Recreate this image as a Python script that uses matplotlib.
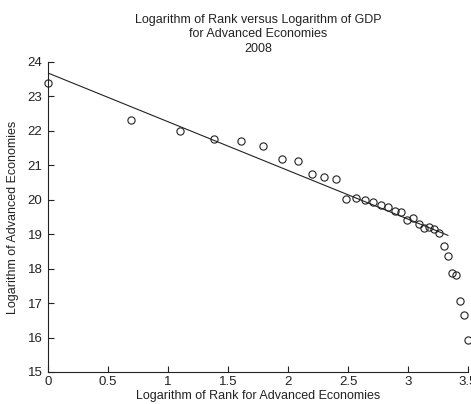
import numpy as np
import matplotlib
matplotlib.use("Agg")
import matplotlib.pyplot as plt

plt.rcParams['font.family'] = ['Liberation Sans', 'DejaVu Sans']

ranks = list(range(1, 34))
log_gdp = [23.38, 22.31, 22.00, 21.77, 21.70, 21.56, 21.18, 21.13, 20.76, 20.65,
           20.59, 20.03, 20.04, 19.99, 19.93, 19.84, 19.80, 19.68, 19.65, 19.41,
           19.46, 19.29, 19.18, 19.21, 19.14, 19.05, 18.67, 18.37, 17.86, 17.81,
           17.05, 16.65, 15.94]
fit_intercept = 23.68
fit_slope = -1.414
fit_last_rank = 28

title = "Logarithm of Rank versus Logarithm of GDP\nfor Advanced Economies\n2008"
xlabel = "Logarithm of Rank for Advanced Economies"
ylabel = "Logarithm of Advanced Economies"
xticks = [0, 0.5, 1, 1.5, 2, 2.5, 3, 3.5]
yticks = list(range(15, 25))

W, H = 471, 404
fig = plt.figure(figsize=(W / 100, H / 100), dpi=100)
ax = fig.add_axes([48 / W, 1 - 372 / H, (468 - 48) / W, (372 - 62) / H])

x = np.log(np.array(ranks, dtype=float))
ax.plot(x, log_gdp, linestyle='none', marker='o', markersize=5.2,
        markerfacecolor='none', markeredgecolor='#222222', markeredgewidth=0.8,
        clip_on=False)
xf = np.array([0.0, np.log(fit_last_rank)])
ax.plot(xf, fit_intercept + fit_slope * xf, color='#222222', linewidth=0.8)

ax.set_xlim(0, 3.5)
ax.set_ylim(15, 24)
ax.set_xticks(xticks)
ax.set_xticklabels([f"{t:g}" for t in xticks])
ax.set_yticks(yticks)
for s in ['top', 'right']:
    ax.spines[s].set_visible(False)
for s in ['left', 'bottom']:
    ax.spines[s].set_linewidth(0.8)
    ax.spines[s].set_color('#222222')
ax.tick_params(direction='in', length=4, width=0.8, labelsize=9.5,
               colors='#222222', pad=3)
ax.tick_params(axis='y', pad=4)
ax.set_xlabel(xlabel, fontsize=9, color='#222222', labelpad=1.5)
ax.set_ylabel(ylabel, fontsize=9, color='#222222', labelpad=6)
ax.set_title(title, fontsize=9, color='#222222', pad=7, linespacing=1.32)

fig.savefig("out.png", dpi=100)
